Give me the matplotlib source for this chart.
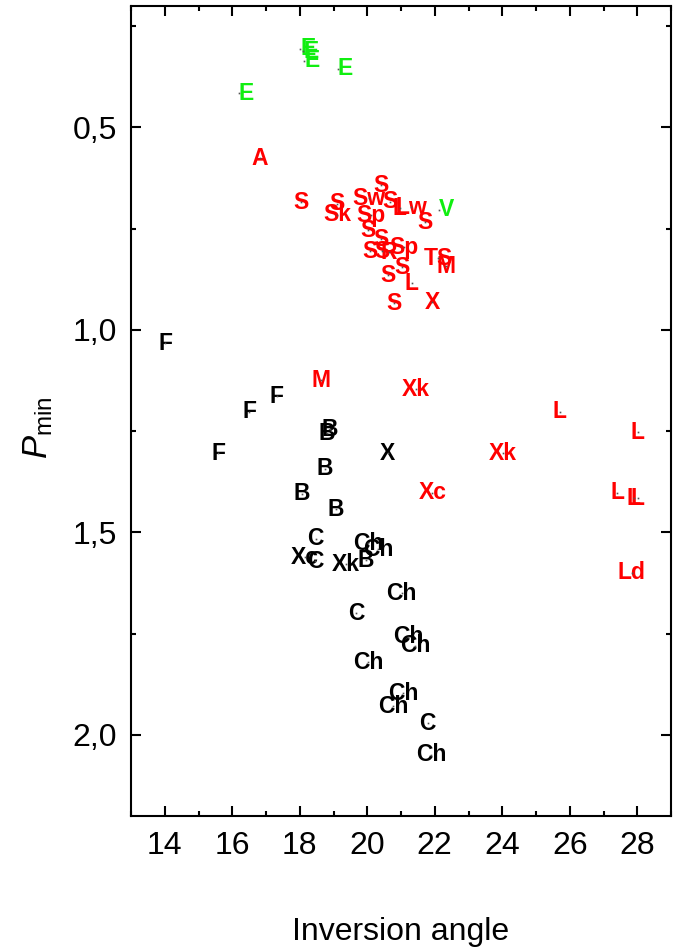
import matplotlib
matplotlib.use("Agg")
import matplotlib.pyplot as plt
from matplotlib.ticker import MultipleLocator, FuncFormatter

plt.rcParams["font.family"] = ["Liberation Sans", "DejaVu Sans"]
plt.rcParams["mathtext.fontset"] = "custom"
plt.rcParams["mathtext.rm"] = "Liberation Sans"
plt.rcParams["mathtext.it"] = "Liberation Sans:italic"

# groups of labelled points: (label, inversion angle, P_min)
green_labels = ["E", "E", "E", "E", "E", "V"]
green_x = [18.01, 18.10, 18.13, 19.12, 16.20, 22.13]
green_y = [0.305, 0.312, 0.335, 0.355, 0.415, 0.703]

red_labels = ["A", "S", "S", "S", "Sk", "Sw", "S", "L", "Lw", "S", "Sp", "S", "S",
              "S", "S", "R", "Sp", "S", "S", "L", "S", "X", "TS", "M",
              "M", "Xk", "L", "L", "Xk", "Xc", "L", "L", "L", "Ld"]
red_x = [16.82, 18.03, 20.41, 19.11, 19.11, 20.05, 20.67, 20.97, 21.30, 21.71, 20.11, 20.02, 20.41,
         20.08, 20.44, 20.64, 21.09, 21.02, 20.61, 21.32, 20.80, 21.92, 22.10, 22.33,
         18.63, 21.43, 25.71, 28.01, 24.03, 21.93, 27.41, 27.90, 28.02, 27.83]
red_y = [0.576, 0.684, 0.643, 0.688, 0.715, 0.675, 0.683, 0.700, 0.697, 0.734, 0.717, 0.754, 0.776,
         0.806, 0.806, 0.808, 0.796, 0.845, 0.865, 0.885, 0.934, 0.932, 0.823, 0.843,
         1.124, 1.146, 1.202, 1.252, 1.304, 1.402, 1.402, 1.415, 1.415, 1.599]

black_labels = ["F", "F", "F", "F", "B", "B", "B", "B", "B", "X", "C", "Xc", "C", "Xk", "B",
                "Ch", "Ch", "Ch", "C", "Ch", "Ch", "Ch", "Ch", "Ch", "C", "Ch"]
black_x = [14.01, 17.32, 16.51, 15.59, 18.90, 18.81, 18.75, 18.06, 19.07, 20.61, 18.47, 18.16, 18.45, 19.37, 19.96,
           20.02, 20.32, 21.02, 19.67, 21.21, 21.41, 20.02, 21.06, 20.76, 21.79, 21.89]
black_y = [1.033, 1.164, 1.202, 1.304, 1.245, 1.255, 1.342, 1.404, 1.443, 1.304, 1.515, 1.561, 1.571, 1.578, 1.568,
           1.526, 1.541, 1.650, 1.699, 1.758, 1.780, 1.820, 1.897, 1.929, 1.971, 2.049]

fig = plt.figure(figsize=(6.73, 9.48), dpi=100)
ax = fig.add_axes([131 / 673, 1 - 816 / 948, 540 / 673, 810 / 948])

label_font = dict(fontsize=16.5, fontweight="bold")

for lab, x, y in zip(green_labels, green_x, green_y):
    ax.text(x, y, lab, color="#11ee11", ha="left", va="center", **label_font)
for lab, x, y in zip(red_labels, red_x, red_y):
    ax.text(x, y, lab, color="#ff0000", ha="center", va="center", **label_font)
for lab, x, y in zip(black_labels, black_x, black_y):
    ax.text(x, y, lab, color="black", ha="center", va="center", **label_font)

all_x = green_x + red_x + black_x
all_y = green_y + red_y + black_y
ax.plot(all_x, all_y, linestyle="none", marker="s", markersize=1.2,
        color="#555555", markeredgewidth=0, zorder=5)

ax.set_xlim(13, 29)
ax.set_ylim(2.2, 0.2)
ax.xaxis.set_major_locator(MultipleLocator(2))
ax.xaxis.set_minor_locator(MultipleLocator(1))
ax.yaxis.set_major_locator(MultipleLocator(0.5))
ax.yaxis.set_minor_locator(MultipleLocator(0.25))
ax.yaxis.set_major_formatter(FuncFormatter(lambda v, _: f"{v:.1f}".replace(".", ",")))

ax.tick_params(which="both", direction="in", top=True, right=True, width=1.5, labelsize=23)
ax.tick_params(which="major", length=7.2)
ax.tick_params(which="minor", length=3.6)
ax.tick_params(axis="x", pad=11)
ax.tick_params(axis="y", pad=10)
for spine in ax.spines.values():
    spine.set_linewidth(1.5)

ax.set_xlabel("Inversion angle", fontsize=23)
ax.xaxis.set_label_coords(0.5, -0.125)
ax.set_ylabel(r"$P_{\rm min}$", fontsize=25)
ax.yaxis.set_label_coords(-0.14, 0.48)

fig.savefig("out.png", dpi=100)
